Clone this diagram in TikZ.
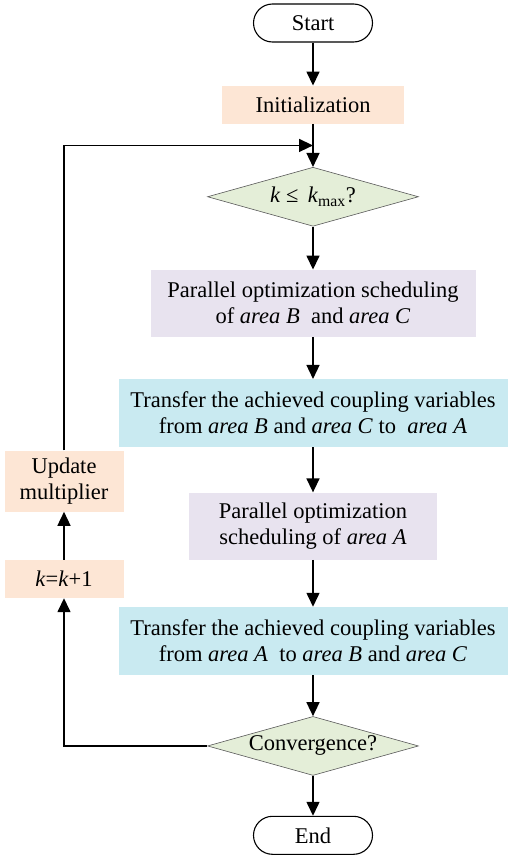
\documentclass[tikz,border=0pt]{standalone}
\usepackage{fontspec}
\setmainfont{Liberation Serif}
\usetikzlibrary{positioning,arrows.meta,shapes.geometric,calc}
\definecolor{peach}{HTML}{FDE6D5}
\definecolor{lilac}{HTML}{E8E3EF}
\definecolor{aqua}{HTML}{C9EAF1}
\definecolor{sage}{HTML}{E4EED8}

\begin{document}
\begin{tikzpicture}[
    node distance=43pt,
    every node/.style={font=\fontsize{22.5}{26}\selectfont},
    term/.style={draw, line width=1.1pt, rounded corners=19pt, minimum width=119pt, minimum height=38pt},
    box/.style={align=center, minimum height=38pt, inner sep=2pt},
    upd/.style={box, fill=peach, minimum width=119pt},
    par/.style={box, fill=lilac, minimum height=67pt},
    xfer/.style={box, fill=aqua, minimum width=389pt, minimum height=68pt},
    test/.style={diamond, draw=black!65, line width=0.6pt, fill=sage, aspect=3.5, inner sep=0pt, minimum width=211pt, minimum height=59pt},
    arr/.style={-{Triangle[length=14pt,width=13pt]}, line width=1.5pt},
  ]
    \useasboundingbox (0,0) rectangle (512pt,-857pt);
    % main column
    \node[term]                     (start) at (313pt,-23pt) {Start};
    \node[box, fill=peach, minimum width=182pt, below=of start] (init) {Initialization};
    \node[test, below=of init]      (chk)   {\textit{k} ≤ \,\textit{k}\textsubscript{max}?};
    \node[par, minimum width=325pt, below=of chk] (parbc) {Parallel optimization scheduling\\of \textit{area B} \ and \textit{area C}};
    \node[xfer, below=42pt of parbc] (tobc)  {Transfer the achieved coupling variables\\from \textit{area B} and \textit{area C} to \ \textit{area A}};
    \node[par, minimum width=248pt, below=45pt of tobc] (para) {Parallel optimization\\scheduling of \textit{area A}};
    \node[xfer, below=47pt of para]  (toa)   {Transfer the achieved coupling variables\\from \textit{area A} \ to \textit{area B} and \textit{area C}};
    \node[test, below=41pt of toa]   (conv)  {Convergence?};
    \node[term, below=40pt of conv]  (end)   {End};
    % feedback column
    \node[upd] (kinc) at (64pt,-579pt) {\textit{k}=\textit{k}+1};
    \node[upd, minimum height=61pt, above=48pt of kinc] (mult) {Update\\multiplier};
    \coordinate (merge) at ($(init.south)!0.5!(chk.north)$);

    \draw[arr] (start) -- (init);
    \draw[arr] (init) -- (chk);
    \draw[arr] (chk) -- (parbc);
    \draw[arr] (parbc) -- (tobc);
    \draw[arr] (tobc) -- (para);
    \draw[arr] (para) -- (toa);
    \draw[arr] (toa) -- (conv);
    \draw[arr] (conv) -- (end);
    \draw[arr] (conv.west) -| (kinc.south);
    \draw[arr] (kinc) -- (mult);
    \draw[arr] (mult.north) |- (merge);
\end{tikzpicture}
\end{document}
